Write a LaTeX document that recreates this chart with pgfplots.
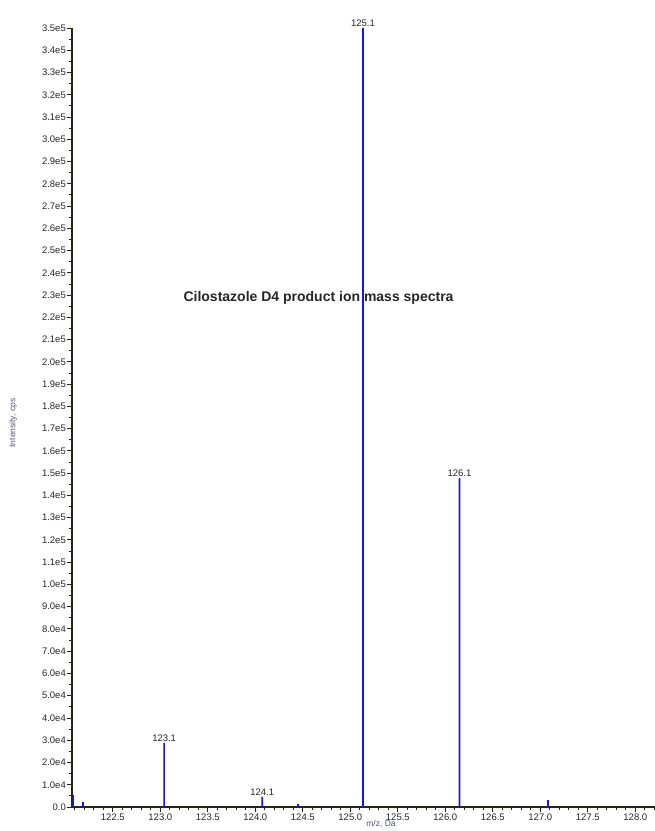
\documentclass[border=0pt]{standalone}
\usepackage{fontspec}
\setmainfont{Liberation Sans}
\usepackage{pgfplots}
\usepackage{pgfplotstable}
\pgfplotsset{compat=1.18}

\definecolor{axisdark}{RGB}{38,38,22}
\definecolor{peakblue}{RGB}{20,20,235}
\definecolor{labelgrey}{RGB}{80,86,120}

% labelled fragment peaks: m/z, intensity (cps), label
\pgfplotstableread{
mz      intensity label
123.04  28800     123.1
124.073 4500      124.1
125.133 350000    125.1
126.149 147800    126.1
}\labelled

% unlabelled minor peaks
\pgfplotstableread{
mz      intensity
122.082 5400
122.186 2200
124.45  1300
127.08  3100
}\smallpeaks

\begin{document}
\begin{tikzpicture}
\useasboundingbox (0pt,0pt) rectangle (655pt,831pt);
\clip (0pt,0pt) rectangle (655pt,831pt);
\begin{axis}[
  at={(72pt,24pt)}, anchor=south west,
  scale only axis, width=583pt, height=779pt,
  xmin=122.07, xmax=128.207,
  ymin=0, ymax=350000,
  clip=false,
  axis x line*=bottom, axis y line*=left,
  axis line style={axisdark, line width=1.3pt, -},
  every tick/.style={axisdark, line width=0.9pt},
  tick align=outside,
  major tick length=5pt, minor tick length=3pt,
  xtick={122.5,123,...,128},
  minor xtick={122.1,122.2,...,128.2},
  ytick={0,10000,...,350000},
  minor ytick={5000,15000,...,345000},
  scaled y ticks=false, scaled x ticks=false,
  yticklabels={0.0,1.0e4,2.0e4,3.0e4,4.0e4,5.0e4,6.0e4,7.0e4,8.0e4,9.0e4,
    1.0e5,1.1e5,1.2e5,1.3e5,1.4e5,1.5e5,1.6e5,1.7e5,1.8e5,1.9e5,
    2.0e5,2.1e5,2.2e5,2.3e5,2.4e5,2.5e5,2.6e5,2.7e5,2.8e5,2.9e5,
    3.0e5,3.1e5,3.2e5,3.3e5,3.4e5,3.5e5},
  /pgf/number format/fixed,
  /pgf/number format/fixed zerofill,
  /pgf/number format/precision=1,
  /pgf/number format/assume math mode=true,
  tick label style={font=\fontsize{9.5}{11}\selectfont, text=black!85},
  yticklabel style={inner sep=1pt},
  xticklabel style={inner sep=1.5pt},
  xlabel={m/z, Da},
  xlabel style={at={(axis description cs:0.53,0)}, anchor=north, yshift=-13pt,
    inner sep=0.5pt, font=\fontsize{8.5}{10}\selectfont, text=labelgrey},
  ylabel={Intensity, cps},
  ylabel style={at={(axis description cs:-0.101,0.493)}, anchor=center,
    font=\fontsize{8.5}{10}\selectfont, text=labelgrey},
  % each peak is a narrow filled stick from the baseline
  peak/.style={ybar, bar width=1.7pt, bar shift=0pt, fill=peakblue,
    draw=none, mark=none},
  labelled peak/.style={peak, point meta=explicit symbolic, nodes near coords,
    nodes near coords style={anchor=south, inner sep=1.2pt, text=black!85,
      font=\fontsize{9.5}{11}\selectfont}},
]
  \node[font=\bfseries\fontsize{14}{16}\selectfont, text=black!85]
    at (axis cs:124.665,228700) {Cilostazole D4 product ion mass spectra};
  \addplot[peak] table[x=mz, y=intensity]{\smallpeaks};
  \addplot[labelled peak] table[x=mz, y=intensity, meta=label]{\labelled};
\end{axis}
\end{tikzpicture}
\end{document}
